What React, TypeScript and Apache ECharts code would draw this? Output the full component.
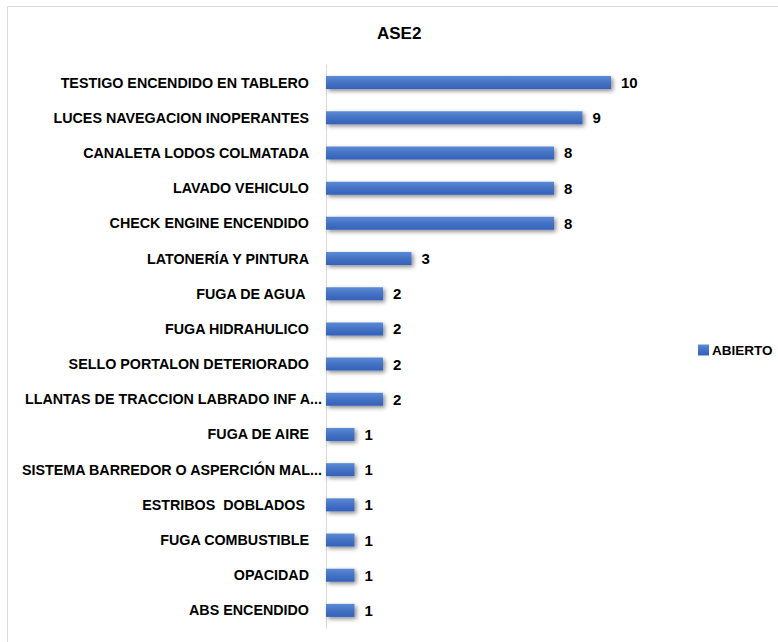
import React, { useEffect, useRef } from "react";
import * as echarts from "echarts";

const categories = [
  "TESTIGO ENCENDIDO EN TABLERO",
  "LUCES NAVEGACION INOPERANTES",
  "CANALETA LODOS COLMATADA",
  "LAVADO VEHICULO",
  "CHECK ENGINE ENCENDIDO",
  "LATONERÍA Y PINTURA",
  "FUGA DE AGUA ",
  "FUGA HIDRAHULICO",
  "SELLO PORTALON DETERIORADO",
  "LLANTAS DE TRACCION LABRADO INF A...",
  "FUGA DE AIRE",
  "SISTEMA BARREDOR O ASPERCIÓN MAL...",
  "ESTRIBOS  DOBLADOS ",
  "FUGA COMBUSTIBLE",
  "OPACIDAD",
  "ABS ENCENDIDO",
];
const abierto = [10, 9, 8, 8, 8, 3, 2, 2, 2, 2, 1, 1, 1, 1, 1, 1];
const seriesName = "ABIERTO";
const chartTitle = "ASE2";

const FONT = "'Liberation Sans', Arial, sans-serif";
const labelText = {
  fontFamily: FONT,
  fontSize: 14.3,
  fontWeight: "bold" as const,
  color: "#000",
};

export default function App() {
  const ref = useRef<HTMLDivElement>(null);
  useEffect(() => {
    if (!ref.current) return;
    const chart = echarts.init(ref.current, null, { renderer: "svg" });
    chart.setOption({
      animation: false,
      backgroundColor: "#ffffff",
      title: {
        text: chartTitle,
        left: 372,
        top: 20,
        textStyle: { fontFamily: FONT, fontSize: 17, fontWeight: "bold", color: "#000" },
      },
      graphic: [
        {
          type: "rect",
          shape: { x: 7.5, y: 6.5, width: 780, height: 660 },
          style: { fill: "none", stroke: "#d9d9d9", lineWidth: 1 },
          silent: true,
        },
      ],
      legend: {
        data: [seriesName],
        left: 693,
        top: 338,
        icon: "rect",
        itemWidth: 11,
        itemHeight: 11,
        itemGap: 4,
        textStyle: { fontFamily: FONT, fontSize: 13.5, fontWeight: "bold", color: "#000", padding: [0, 0, 0, -2] },
      },
      grid: { left: 326, top: 65, right: 167, bottom: 14, containLabel: false },
      xAxis: {
        type: "value",
        min: 0,
        max: 10,
        show: false,
        splitLine: { show: false },
      },
      yAxis: {
        type: "category",
        data: categories,
        inverse: true,
        axisTick: { show: false },
        axisLine: { show: true, lineStyle: { color: "#d9d9d9", width: 1 } },
        axisLabel: {
          margin: 4,
          ...labelText,
          formatter: (v: string) => (v.endsWith("...") ? `{e|${v}}` : `{n|${v}}`),
          rich: {
            n: { ...labelText, padding: [0, 13, 0, 0] },
            e: { ...labelText, padding: [0, 0, 0, 0] },
          },
        },
      },
      series: [
        {
          name: seriesName,
          type: "bar",
          data: abierto,
          barWidth: 13,
          itemStyle: {
            color: new echarts.graphic.LinearGradient(0, 0, 0, 1, [
              { offset: 0, color: "#5b8ad6" },
              { offset: 0.5, color: "#4472c4" },
              { offset: 1, color: "#3461bb" },
            ]),
            shadowColor: "rgba(0,0,0,0.45)",
            shadowBlur: 4,
            shadowOffsetX: 2,
            shadowOffsetY: 2,
          },
          label: {
            show: true,
            position: "right",
            distance: 10,
            fontFamily: FONT,
            fontSize: 15,
            fontWeight: "bold",
            color: "#000",
          },
        },
      ],
    });
    return () => chart.dispose();
  }, []);
  return (
    <div
      ref={ref}
      style={{ position: "fixed", left: 0, top: 0, width: 778, height: 642, background: "#fff" }}
    />
  );
}
